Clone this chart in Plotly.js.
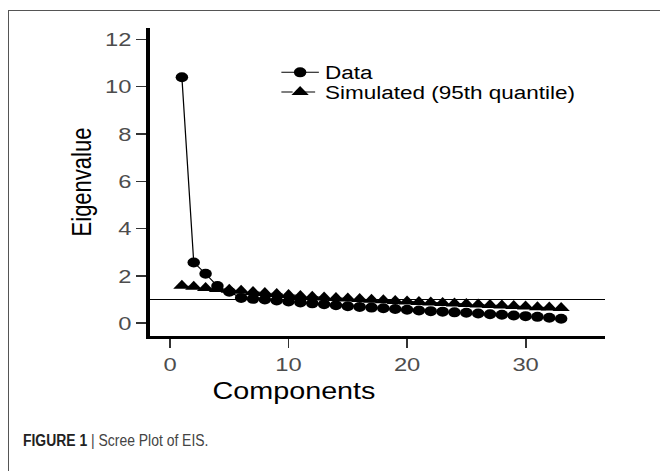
<!DOCTYPE html>
<html>
<head>
<meta charset="utf-8">
<script src="https://cdn.plot.ly/plotly-3.0.1.min.js"></script>
<style>
html,body{margin:0;padding:0;background:#fff;width:660px;height:471px;overflow:hidden;}
#frame{position:absolute;left:8px;top:10px;width:720px;height:520px;border:1px solid #555;box-sizing:border-box;}
#wrap{position:absolute;left:0;top:0;width:528px;height:471px;transform:scaleX(1.25);transform-origin:0 0;}
#caption{position:absolute;left:23px;top:432px;font-family:"Liberation Sans Narrow","Arial Narrow","Liberation Sans",Arial,sans-serif;font-size:16px;color:#444;white-space:nowrap;transform:scaleX(0.87);transform-origin:0 0;}
#caption b{color:#222;}
</style>
</head>
<body>
<div id="frame"></div>
<div id="wrap"><div id="chart" style="width:528px;height:471px"></div></div>
<div id="caption"><b>FIGURE 1</b> | Scree Plot of EIS.</div>
<script>
var components = [1,2,3,4,5,6,7,8,9,10,11,12,13,14,15,16,17,18,19,20,21,22,23,24,25,26,27,28,29,30,31,32,33];
var dataEigen = [10.40,2.57,2.09,1.57,1.33,1.07,1.03,1.00,0.96,0.92,0.88,0.84,0.80,0.76,0.72,0.69,0.66,0.63,0.60,0.57,0.54,0.51,0.49,0.46,0.44,0.41,0.38,0.36,0.33,0.30,0.27,0.23,0.19];
var simulatedEigen = [1.58,1.54,1.49,1.45,1.41,1.37,1.32,1.28,1.24,1.19,1.15,1.12,1.09,1.07,1.04,1.02,0.99,0.97,0.94,0.92,0.90,0.88,0.86,0.83,0.81,0.79,0.77,0.75,0.73,0.71,0.68,0.66,0.64];
var xTicks = [0,10,20,30];
var yTicks = [0,2,4,6,8,10,12];
var seriesNames = ['Data','Simulated (95th quantile)'];
var xTitle = 'Components';
var yTitle = 'Eigenvalue';
var refLine = 1;

var traces = [
  {x:components, y:dataEigen, name:seriesNames[0], type:'scatter', mode:'lines+markers', legend:'legend',
   line:{color:'#000', width:1}, marker:{symbol:'circle', size:10, color:'#000'}},
  {x:components, y:simulatedEigen, name:seriesNames[1], type:'scatter', mode:'lines+markers', legend:'legend2',
   line:{color:'#000', width:1, dash:'dash'}, marker:{symbol:'triangle-up', size:12, color:'#000'}}
];

var axisCommon = {showline:true, linewidth:3, linecolor:'#000', ticks:'outside', tickwidth:1.5, tickcolor:'#333',
  tickfont:{size:19, color:'#4d4d4d', family:'Liberation Sans, Arial, sans-serif'}, showgrid:false, zeroline:false, fixedrange:true};

var legendCommon = {x:0.275, xanchor:'left', yanchor:'middle', bgcolor:'rgba(0,0,0,0)', font:{size:18, color:'#000'}, itemwidth:30};

var layout = {
  width:528, height:471,
  margin:{l:120, r:44, t:28, b:135},
  paper_bgcolor:'rgba(0,0,0,0)', plot_bgcolor:'rgba(0,0,0,0)',
  font:{family:'Liberation Sans, Arial, sans-serif', color:'#000'},
  showlegend:true,
  xaxis:Object.assign({}, axisCommon, {range:[-1.69,36.7], tickvals:xTicks, ticklen:9}),
  yaxis:Object.assign({}, axisCommon, {range:[-0.54,12.48], tickvals:yTicks, ticklen:8,
     title:{text:yTitle, font:{size:22, color:'#000'}, standoff:5}}),
  legend:Object.assign({}, legendCommon, {y:0.855}),
  legend2:Object.assign({}, legendCommon, {y:0.791}),
  shapes:[{type:'line', xref:'paper', x0:0, x1:1, yref:'y', y0:refLine, y1:refLine, layer:'below', line:{color:'#000', width:1}}],
  annotations:[{text:xTitle, xref:'x', x:10.4, yref:'paper', y:-0.178, xanchor:'center', yanchor:'middle', showarrow:false, font:{size:23, color:'#000'}}]
};

Plotly.newPlot('chart', traces, layout, {displayModeBar:false, staticPlot:true});
</script>
</body>
</html>
